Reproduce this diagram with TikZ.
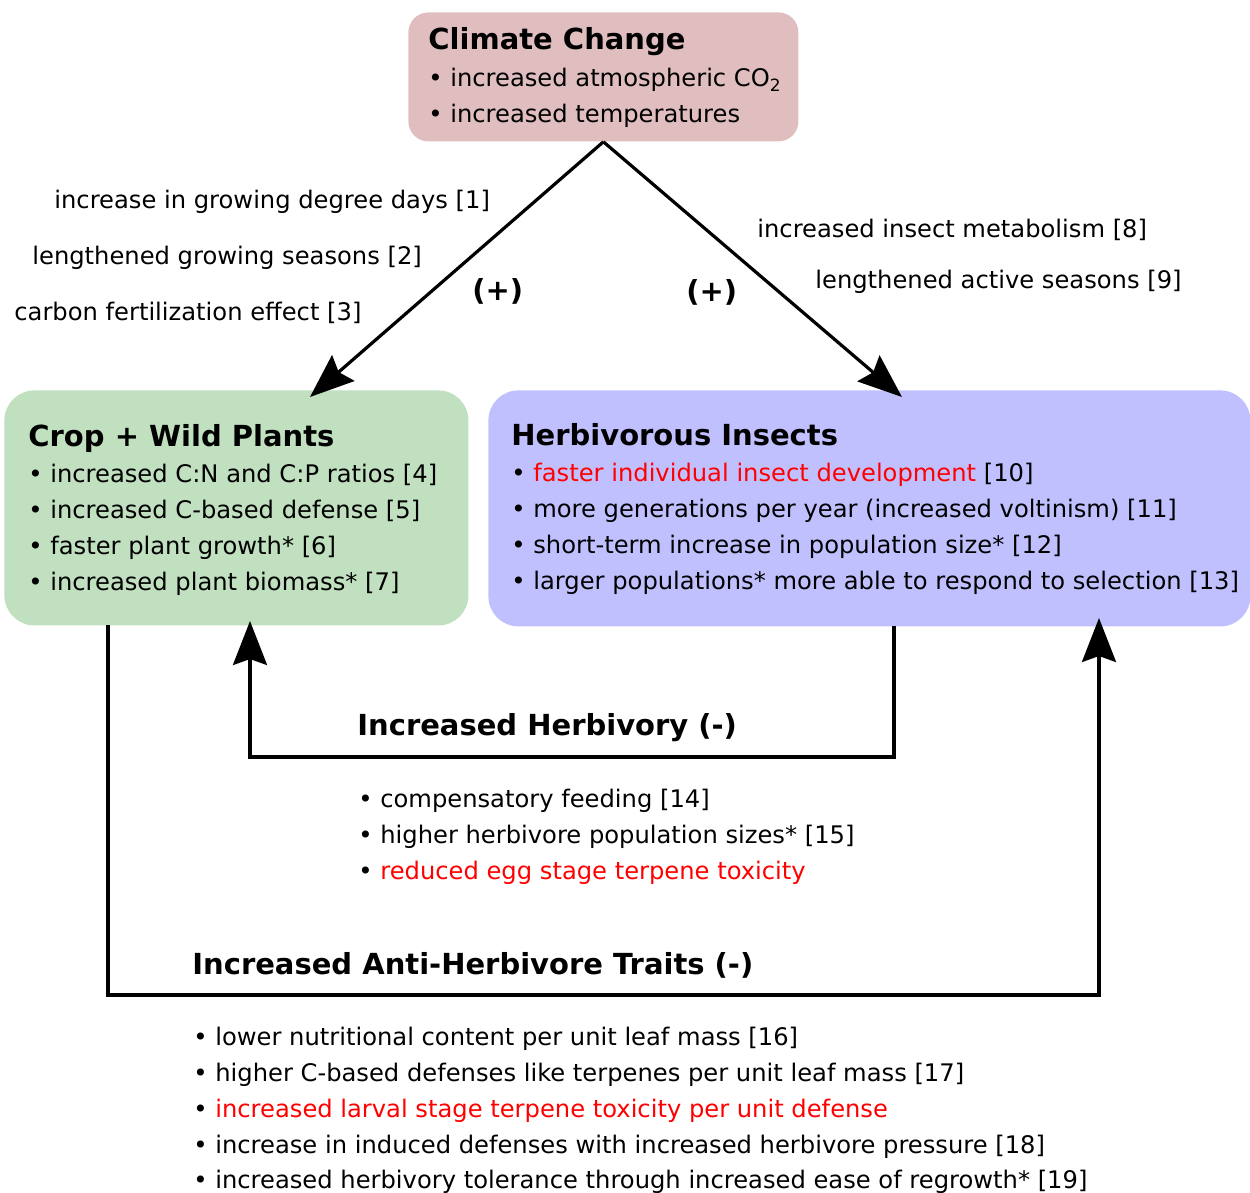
\documentclass[tikz,border=0pt]{standalone}
\usepackage{fontspec}
\setmainfont{DejaVu Sans}
\usetikzlibrary{arrows.meta}
\definecolor{climatecol}{RGB}{224,190,192}
\definecolor{plantcol}{RGB}{192,224,192}
\definecolor{insectcol}{RGB}{192,192,255}
\definecolor{redtext}{RGB}{255,0,0}
\tikzset{
  boxbase/.style={draw=none, anchor=north west, inner sep=0pt},
  txt/.style={anchor=base west, inner sep=0pt, font=\fontsize{12.1pt}{14pt}\selectfont},
  ttl/.style={anchor=base west, inner sep=0pt, font=\fontsize{14.5pt}{16pt}\selectfont\bfseries},
  conn/.style={line width=1.6pt, -{Stealth[length=22pt,width=17pt,inset=3pt]}},
  elbow/.style={line width=1.6pt, -{Stealth[length=22pt,width=17pt,inset=3pt]}}
}
\newcommand{\bul}{\textbullet\ }
\begin{document}
\begin{tikzpicture}[x=0.5pt,y=-0.5pt]
\useasboundingbox (0,0) rectangle (1250,1193);
% boxes
\node[boxbase, fill=climatecol, rounded corners=10pt, minimum width=195pt, minimum height=64.5pt] (climate) at (408,12) {};
\node[boxbase, fill=plantcol, rounded corners=15pt, minimum width=232pt, minimum height=117.5pt] (plants) at (4,390) {};
\node[boxbase, fill=insectcol, rounded corners=15pt, minimum width=381pt, minimum height=118pt] (insects) at (488,390) {};
% climate text
\node[ttl] (ctitle) at (428,50) {Climate Change};
\node[txt] (c1) at (428,87) {\bul increased atmospheric CO\textsubscript{2}};
\node[txt] (c2) at (428,123) {\bul increased temperatures};
% left labels
\node[txt] (l1) at (54,209) {increase in growing degree days [1]};
\node[txt] (l2) at (32,265) {lengthened growing seasons [2]};
\node[txt] (l3) at (14,321) {carbon fertilization effect [3]};
\node[ttl] (plusl) at (472,300) {(+)};
\node[ttl] (plusr) at (686,301) {(+)};
\node[txt] (r1) at (757,238) {increased insect metabolism [8]};
\node[txt] (r2) at (815,289) {lengthened active seasons [9]};
% plants text
\node[ttl] (ptitle) at (28,446) {Crop + Wild Plants};
\node[txt] (p1) at (28,482) {\bul increased C:N and C:P ratios [4]};
\node[txt] (p2) at (28,518) {\bul increased C-based defense [5]};
\node[txt] (p3) at (28,554) {\bul faster plant growth* [6]};
\node[txt] (p4) at (28,590) {\bul increased plant biomass* [7]};
% insects text
\node[ttl] (ititle) at (511,445) {Herbivorous Insects};
\node[txt] (i1) at (511,481) {\bul \textcolor{redtext}{faster individual insect development} [10]};
\node[txt] (i2) at (511,517) {\bul more generations per year (increased voltinism) [11]};
\node[txt] (i3) at (511,553) {\bul short-term increase in population size* [12]};
\node[txt] (i4) at (511,589) {\bul larger populations* more able to respond to selection [13]};
% herbivory
\node[ttl] (htitle) at (357,735) {Increased Herbivory (-)};
\node[txt] (h1) at (358,807) {\bul compensatory feeding [14]};
\node[txt] (h2) at (358,843) {\bul higher herbivore population sizes* [15]};
\node[txt] (h3) at (358,879) {\bul \textcolor{redtext}{reduced egg stage terpene toxicity}};
% anti-herbivore
\node[ttl] (atitle) at (192,974) {Increased Anti-Herbivore Traits (-)};
\node[txt] (a1) at (193,1045) {\bul lower nutritional content per unit leaf mass [16]};
\node[txt] (a2) at (193,1081) {\bul higher C-based defenses like terpenes per unit leaf mass [17]};
\node[txt] (a3) at (193,1117) {\bul \textcolor{redtext}{increased larval stage terpene toxicity per unit defense}};
\node[txt] (a4) at (193,1153) {\bul increase in induced defenses with increased herbivore pressure [18]};
\node[txt] (a5) at (193,1188) {\bul increased herbivory tolerance through increased ease of regrowth* [19]};
% connector end points
\coordinate (ltip) at (310,397);
\coordinate (rtip) at (902,397);
\coordinate (htip) at (250,621);
\coordinate (atip) at (1099,618);
\coordinate (hstart) at (894,626);
\coordinate (astart) at (108,625);
% connectors
\draw[conn] (climate.south) -- (ltip);
\draw[conn] (climate.south) -- (rtip);
\draw[elbow] (hstart) -- (894,757) -- (250,757) -- (htip);
\draw[elbow] (astart) -- (108,995) -- (1099,995) -- (atip);
\end{tikzpicture}
\end{document}
